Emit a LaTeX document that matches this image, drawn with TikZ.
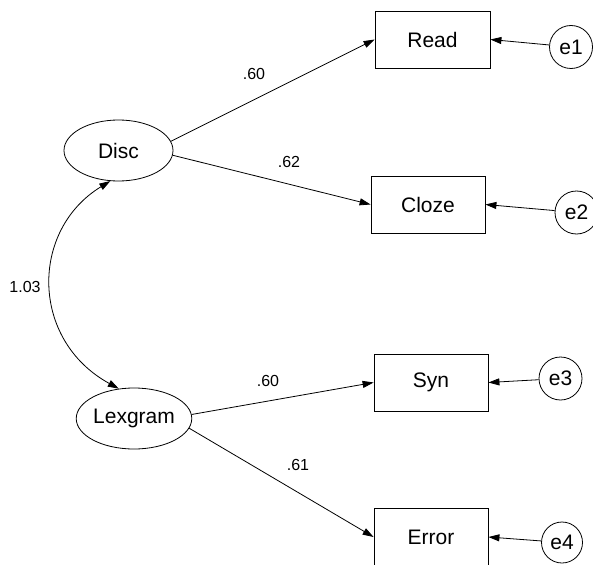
\documentclass[tikz,border=0pt]{standalone}
\usepackage{fontspec}
\setmainfont{Liberation Sans}
\usetikzlibrary{shapes.geometric,arrows.meta}
\tikzset{
  obsbox/.style={draw, line width=0.8pt, minimum width=114pt, minimum height=57pt, inner sep=0pt, font=\fontsize{21}{24}\selectfont},
  latent/.style={draw, ellipse, line width=0.8pt, minimum width=109pt, minimum height=61pt, inner sep=0pt, font=\fontsize{21}{24}\selectfont},
  errc/.style={draw, circle, line width=0.8pt, minimum size=43pt, inner sep=0pt, font=\fontsize{21}{24}\selectfont},
  path/.style={line width=0.8pt, -{Triangle[length=11pt,width=7pt]}},
  coef/.style={font=\fontsize{16}{18}\selectfont, inner sep=0pt}
}
\begin{document}
\begin{tikzpicture}[x=1pt,y=-1pt]
\useasboundingbox (0,0) rectangle (593,564);
\node[obsbox, minimum width=115pt] (Read) at (432.5,39.5) {Read};
\node[obsbox] (Cloze) at (428,204.5) {Cloze};
\node[obsbox] (Syn) at (431,382.5) {Syn};
\node[obsbox] (Error) at (431,537) {Error};
\node[latent] (Disc) at (118.5,150.5) {Disc};
\node[latent, minimum width=110pt] (Lex) at (134,418.5) {Lexgram};
\node[errc] (e1) at (571,47) {e1};
\node[errc] (e2) at (576.5,212.5) {e2};
\node[errc] (e3) at (560.5,378.5) {e3};
\node[errc, minimum size=41pt] (e4) at (562,542.5) {e4};
\draw[path] (Disc.10) -- (Read.west);
\draw[path] (Disc.-5) -- (Cloze.west);
\draw[path] (Lex.4) -- (Syn.west);
\draw[path] (Lex.-10) -- (Error.west);
\draw[path] (e1) -- (Read.east);
\draw[path] (e2) -- (Cloze.east);
\draw[path] (e3) -- (Syn.east);
\draw[path] (e4) -- (Error.east);
\draw[line width=0.8pt, {Triangle[length=11pt,width=7pt]}-{Triangle[length=11pt,width=7pt]}] (Disc.-105) .. controls (30,230) and (30,340) .. (Lex.117);
\node[coef] (l1) at (254,74) {.60};
\node[coef] (l2) at (289,162) {.62};
\node[coef] (l3) at (268,381) {.60};
\node[coef] (l4) at (298,465) {.61};
\node[coef] (l5) at (25,287) {1.03};
\end{tikzpicture}
\end{document}
